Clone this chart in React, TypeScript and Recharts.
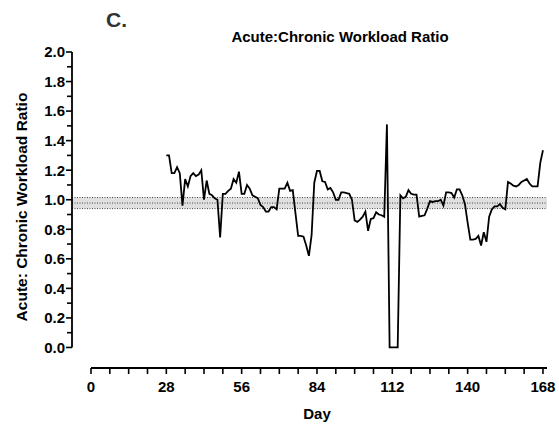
import { LineChart, Line, XAxis, YAxis, ReferenceArea, ReferenceLine } from "recharts";

// daily acute:chronic workload ratio, day 28 → 168
const startDay = 28;
const ratio = [
  1.3, 1.3, 1.18, 1.18, 1.22, 1.18, 0.96, 1.14, 1.09, 1.16,
  1.18, 1.16, 1.17, 1.2, 1.0, 1.13, 1.04, 1.03, 1.01, 1.0,
  0.745, 1.04, 1.04, 1.06, 1.075, 1.14, 1.115, 1.19, 1.04, 1.04,
  1.1, 1.075, 1.03, 1.02, 1.01, 0.965, 0.95, 0.92, 0.92, 0.95,
  0.95, 0.935, 1.075, 1.075, 1.075, 1.115, 1.06, 1.065, 0.91, 0.755,
  0.755, 0.75, 0.69, 0.62, 0.76, 1.115, 1.195, 1.195, 1.125, 1.12,
  1.07, 1.08, 1.05, 1.0, 1.0, 1.05, 1.05, 1.045, 1.04, 1.0,
  0.86, 0.85, 0.865, 0.885, 0.92, 0.79, 0.87, 0.875, 0.915, 0.9,
  0.895, 0.885, 1.51, 0, 0, 0, 0, 1.03, 1.01, 1.02,
  1.065, 1.04, 1.035, 1.035, 0.885, 0.89, 0.895, 0.94, 0.99, 0.985,
  0.99, 0.99, 1.0, 0.96, 1.05, 1.05, 1.045, 1.015, 1.07, 1.07,
  1.03, 0.97, 0.845, 0.73, 0.73, 0.735, 0.755, 0.69, 0.78, 0.715,
  0.885, 0.935, 0.955, 0.955, 0.97, 0.945, 0.935, 1.12, 1.11, 1.095,
  1.09, 1.1, 1.12, 1.13, 1.14, 1.11, 1.09, 1.09, 1.09, 1.25,
  1.335,
];

const xTicks = [0, 7, 14, 21, 28, 35, 42, 49, 56, 63, 70, 77, 84, 91, 98, 105, 112, 119, 126, 133, 140, 147, 154, 161, 168];
const xLabels = [0, 28, 56, 84, 112, 140, 168];
const yTicks = [0, 0.1, 0.2, 0.3, 0.4, 0.5, 0.6, 0.7, 0.8, 0.9, 1.0, 1.1, 1.2, 1.3, 1.4, 1.5, 1.6, 1.7, 1.8, 1.9, 2.0];
const yLabels = ["0.0", "0.2", "0.4", "0.6", "0.8", "1.0", "1.2", "1.4", "1.6", "1.8", "2.0"];

// normal range band
const bandLow = 0.94;
const bandHigh = 1.015;

const data = ratio.map((v, i) => ({ day: startDay + i, acwr: v }));

const FONT = "'Liberation Sans', Arial, sans-serif";
const Y_AXIS_X = 72;
const X_AXIS_Y = 368;

const XTick = (props: any) => {
  const { x, payload } = props;
  const v = payload.value;
  const labelled = xLabels.includes(v);
  return (
    <g>
      <line x1={x} x2={x} y1={X_AXIS_Y} y2={X_AXIS_Y + 6} stroke="#000" strokeWidth={1.6} />
      {labelled && (
        <text x={x} y={X_AXIS_Y + 24} textAnchor="middle" fontFamily={FONT} fontWeight="bold" fontSize={15} fill="#000">
          {v}
        </text>
      )}
    </g>
  );
};

const YTick = (props: any) => {
  const { y, payload } = props;
  const v = payload.value;
  const label = yLabels.find((l) => Math.abs(parseFloat(l) - v) < 1e-6);
  return (
    <g>
      <line x1={label ? Y_AXIS_X - 6 : Y_AXIS_X - 5} x2={Y_AXIS_X} y1={y} y2={y} stroke="#000" strokeWidth={1.6} />
      {label && (
        <text x={Y_AXIS_X - 7} y={y} dy="0.36em" textAnchor="end" fontFamily={FONT} fontWeight="bold" fontSize={15} fill="#000">
          {label}
        </text>
      )}
    </g>
  );
};

export default function App() {
  return (
    <div style={{ position: "absolute", left: 0, top: 0, width: 559, height: 427, background: "#fff", fontFamily: FONT }}>
      <LineChart width={559} height={427} data={data} margin={{ top: 52, right: 12, bottom: 14, left: 22 }}>
        <XAxis
          dataKey="day"
          type="number"
          domain={[-7.06, 169.5]}
          ticks={xTicks}
          interval={0}
          axisLine={false}
          tickLine={false}
          tick={<XTick />}
          height={45}
          allowDataOverflow
        />
        <YAxis
          type="number"
          domain={[-0.139, 2.0]}
          ticks={yTicks}
          interval={0}
          axisLine={false}
          tickLine={false}
          tick={<YTick />}
          width={50}
          allowDataOverflow
        />
        <ReferenceArea y1={bandLow} y2={bandHigh} fill="#e0e0e0" fillOpacity={1} stroke="none" ifOverflow="visible" />
        <ReferenceLine y={bandHigh} stroke="#444" strokeDasharray="1 1.5" strokeWidth={1} />
        <ReferenceLine y={(bandLow + bandHigh) / 2} stroke="#444" strokeDasharray="1 1.5" strokeWidth={1} />
        <ReferenceLine y={bandLow} stroke="#444" strokeDasharray="1 1.5" strokeWidth={1} />
        <ReferenceLine
          segment={[{ x: -7.06, y: 0 }, { x: -7.06, y: 2.0 }]}
          stroke="#000"
          strokeWidth={1.8}
          ifOverflow="visible"
        />
        <ReferenceLine
          segment={[{ x: 0, y: -0.139 }, { x: 169.5, y: -0.139 }]}
          stroke="#000"
          strokeWidth={1.8}
          ifOverflow="visible"
        />
        <Line type="linear" dataKey="acwr" stroke="#000" strokeWidth={1.8} dot={false} isAnimationActive={false} />
      </LineChart>
      <div style={{ position: "absolute", left: 106, top: 8, fontSize: 21, fontWeight: "bold", color: "#333", lineHeight: "24px" }}>C.</div>
      <div style={{ position: "absolute", left: 0, width: 680, top: 28, textAlign: "center", fontSize: 15, fontWeight: "bold", lineHeight: "17px" }}>
        Acute:Chronic Workload Ratio
      </div>
      <div style={{ position: "absolute", left: 91, width: 452, top: 405, textAlign: "center", fontSize: 15, fontWeight: "bold", lineHeight: "18px" }}>
        Day
      </div>
      <div
        style={{
          position: "absolute",
          left: 22 - 150,
          top: 207 - 9,
          width: 300,
          textAlign: "center",
          fontSize: 15.5,
          fontWeight: "bold",
          lineHeight: "18px",
          transform: "rotate(-90deg)",
          whiteSpace: "nowrap",
        }}
      >
        Acute: Chronic Workload Ratio
      </div>
    </div>
  );
}
